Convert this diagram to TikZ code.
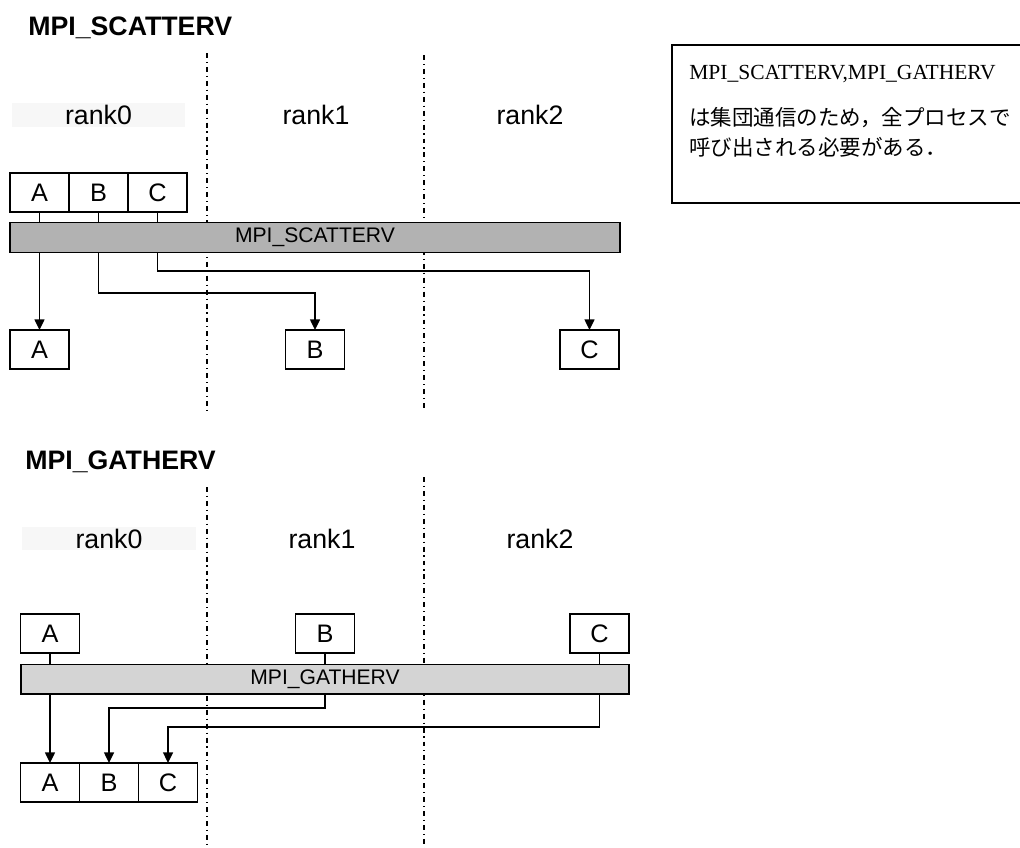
\documentclass[tikz,border=0pt]{standalone}
\usepackage{fontspec}
\setmainfont{Liberation Sans}
\newfontfamily\notefont{Liberation Serif}
\newfontfamily\jpfont{Noto Sans CJK JP}
\usetikzlibrary{arrows.meta,positioning}
\definecolor{scatterfill}{RGB}{178,178,178}
\definecolor{gatherfill}{RGB}{212,212,212}

\begin{document}
\begin{tikzpicture}[
    x=0.025cm, y=-0.025cm,
    title/.style={font=\fontsize{19}{21}\selectfont\bfseries, anchor=west, inner sep=0pt},
    rank/.style={font=\fontsize{19}{21}\selectfont, inner sep=0pt},
    rankband/.style={rank, fill=black!3, minimum width=4.325cm, minimum height=0.575cm},
    cell/.style={draw, line width=1pt, fill=white, minimum width=1.475cm, minimum height=0.975cm, inner sep=0pt, outer sep=0pt, font=\fontsize{18}{20}\selectfont},
    bar/.style={draw, line width=1pt, minimum height=0.74cm, inner sep=0pt, outer sep=0pt, font=\fontsize{15}{17}\selectfont},
    divider/.style={line width=0.8pt, dash pattern=on 3.5pt off 2.8pt on 0.8pt off 2.8pt},
    tick/.style={line width=1pt},
    flow/.style={-{Triangle[length=7.5pt,width=7pt]}, line width=1.1pt},
    note/.style={font=\notefont\fontsize{15.3}{21}\selectfont, align=left, anchor=north west, inner sep=0pt}
]
    \clip (0,0) rectangle (1020,848);

    % Dividers
    \draw[divider] (207,53) -- (207,410);
    \draw[divider] (424,55) -- (424,408);
    \draw[divider] (207,487) -- (207,848);
    \draw[divider] (424,477) -- (424,848);

    % MPI_SCATTERV
    \node[title] (stitle) at (28,28) {MPI\_SCATTERV};
    \node[rankband] (srank0) at (98.5,115) {rank0};
    \node[rank] (srank1) at (316,115) {rank1};
    \node[rank] (srank2) at (530,115) {rank2};

    \node[cell] (sa) at (39.5,192.5) {A};
    \node[cell, right=0pt of sa] (sb) {B};
    \node[cell, right=0pt of sb] (sc) {C};
    \node[bar, fill=scatterfill, minimum width=15.25cm] (sbar) at (315,237.5) {MPI\_SCATTERV};

    \node[cell] (ra) at (39.5,349.5) {A};
    \node[cell] (rb) at (315,349.5) {B};
    \node[cell] (rc) at (589.5,349.5) {C};

    \coordinate (slevelb) at (0,293);
    \coordinate (slevelc) at (0,271);
    \foreach \n in {sa,sb,sc}
        \draw[tick] (\n.south) -- (\n.south |- sbar.north);
    \draw[flow] (sa.south |- sbar.south) -- (ra.north);
    \draw[flow] (sb.south |- sbar.south) -- (sb.south |- slevelb) -| (rb.north);
    \draw[flow] (sc.south |- sbar.south) -- (sc.south |- slevelc) -| (rc.north);

    % MPI_GATHERV
    \node[title] (gtitle) at (25,462) {MPI\_GATHERV};
    \node[rankband] (grank0) at (109,538.5) {rank0};
    \node[rank] (grank1) at (322,538.5) {rank1};
    \node[rank] (grank2) at (540,538.5) {rank2};

    \node[cell] (ga) at (50,633.5) {A};
    \node[cell] (gb) at (325,633.5) {B};
    \node[cell] (gc) at (599.5,633.5) {C};
    \node[bar, fill=gatherfill, minimum width=15.2cm] (gbar) at (325,679) {MPI\_GATHERV};

    \node[cell] (ta) at (50,782.5) {A};
    \node[cell, right=0pt of ta] (tb) {B};
    \node[cell, right=0pt of tb] (tc) {C};

    \coordinate (glevelb) at (0,708);
    \coordinate (glevelc) at (0,727);
    \foreach \n in {ga,gb,gc}
        \draw[tick] (\n.south) -- (\n.south |- gbar.north);
    \draw[flow] (ga.south |- gbar.south) -- (ta.north);
    \draw[flow] (gb.south |- gbar.south) -- (gb.south |- glevelb) -| (tb.north);
    \draw[flow] (gc.south |- gbar.south) -- (gc.south |- glevelc) -| (tc.north);

    % Note
    \draw[line width=1pt] (672,45) rectangle (1030,203);
    \node[note] (notetext) at (689,65) {MPI\_SCATTERV,MPI\_GATHERV\\[12pt]{\jpfont は集団通信のため，全プロセスで}\\{\jpfont 呼び出される必要がある．}};
\end{tikzpicture}
\end{document}
